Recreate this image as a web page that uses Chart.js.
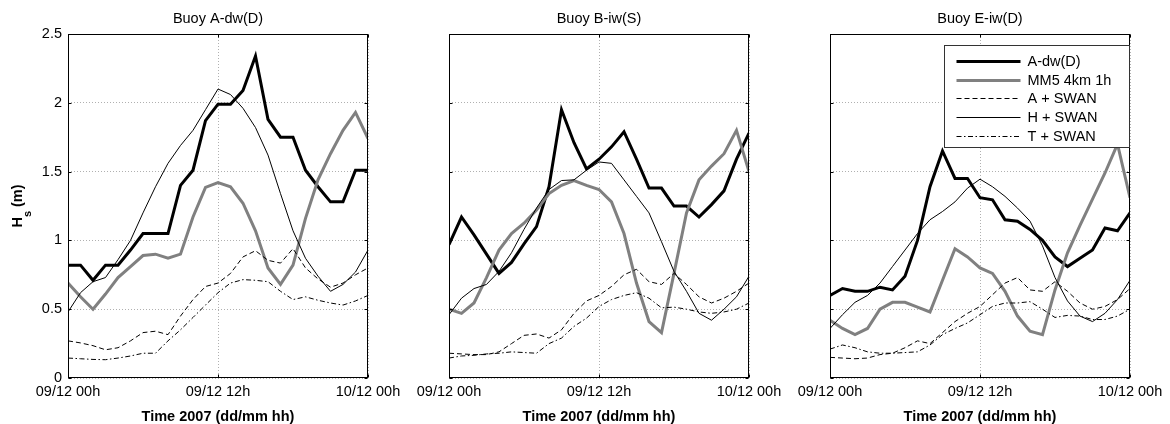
<!DOCTYPE html>
<html>
<head>
<meta charset="utf-8">
<script src="https://cdn.jsdelivr.net/npm/chart.js@4/dist/chart.umd.min.js"></script>
<style>
  html, body { margin: 0; padding: 0; background: #fff; }
  #wrap { position: relative; width: 1170px; height: 424px; overflow: hidden; }
  canvas { position: absolute; top: 0; }
</style>
</head>
<body>
<div id="wrap">
  <canvas id="panelA" width="408" height="424" style="left:0px"></canvas>
  <canvas id="panelB" width="408" height="424" style="left:381px"></canvas>
  <canvas id="panelE" width="408" height="424" style="left:762px"></canvas>
</div>
<script>
// hourly samples, 09/12 00h .. 10/12 00h
const hours = [0, 1, 2, 3, 4, 5, 6, 7, 8, 9, 10, 11, 12, 13, 14, 15, 16, 17, 18, 19, 20, 21, 22, 23, 24];
const timeTickHours = [0, 12, 24];
const timeTickLabels = ['09/12 00h', '09/12 12h', '10/12 00h'];
const hsTickValues = [0, 0.5, 1, 1.5, 2, 2.5];
const hsTickLabels = ['0', '0.5', '1', '1.5', '2', '2.5'];
const seriesNames = ['A-dw(D)', 'MM5 4km 1h', 'A + SWAN', 'H + SWAN', 'T + SWAN'];
const panelTitles = ['Buoy A-dw(D)', 'Buoy B-iw(S)', 'Buoy E-iw(D)'];

// Buoy A-dw(D)
const buoyA_obs   = [0.82, 0.82, 0.71, 0.82, 0.82, 0.93, 1.05, 1.05, 1.05, 1.40, 1.51, 1.87, 1.99, 1.99, 2.09, 2.34, 1.88, 1.75, 1.75, 1.51, 1.39, 1.28, 1.28, 1.51, 1.51];
const buoyA_mm5   = [0.69, 0.59, 0.50, 0.61, 0.73, 0.81, 0.89, 0.90, 0.87, 0.90, 1.17, 1.385, 1.42, 1.39, 1.27, 1.07, 0.80, 0.68, 0.82, 1.16, 1.44, 1.63, 1.80, 1.93, 1.74];
const buoyA_aSwan = [0.27, 0.255, 0.235, 0.205, 0.22, 0.27, 0.33, 0.34, 0.315, 0.45, 0.57, 0.665, 0.69, 0.76, 0.88, 0.925, 0.855, 0.835, 0.94, 0.80, 0.72, 0.66, 0.69, 0.75, 0.80];
const buoyA_hSwan = [0.48, 0.62, 0.70, 0.73, 0.86, 1.00, 1.20, 1.39, 1.56, 1.69, 1.80, 1.95, 2.10, 2.06, 1.96, 1.82, 1.62, 1.34, 1.07, 0.87, 0.74, 0.63, 0.68, 0.77, 0.93];
const buoyA_tSwan = [0.145, 0.14, 0.135, 0.133, 0.145, 0.16, 0.18, 0.18, 0.27, 0.35, 0.44, 0.53, 0.62, 0.69, 0.715, 0.71, 0.70, 0.63, 0.57, 0.59, 0.565, 0.545, 0.53, 0.56, 0.60];

// Buoy B-iw(S)
const buoyB_obs   = [0.97, 1.17, 1.04, 0.90, 0.76, 0.84, 0.975, 1.10, 1.39, 1.95, 1.71, 1.52, 1.59, 1.68, 1.79, 1.59, 1.38, 1.38, 1.25, 1.25, 1.17, 1.26, 1.36, 1.59, 1.78];
const buoyB_mm5   = [0.50, 0.47, 0.545, 0.73, 0.93, 1.05, 1.125, 1.22, 1.34, 1.40, 1.435, 1.40, 1.37, 1.28, 1.05, 0.69, 0.41, 0.33, 0.76, 1.20, 1.44, 1.54, 1.63, 1.80, 1.50];
const buoyB_aSwan = [0.18, 0.175, 0.17, 0.17, 0.19, 0.25, 0.31, 0.32, 0.29, 0.35, 0.47, 0.56, 0.60, 0.665, 0.75, 0.79, 0.70, 0.68, 0.76, 0.68, 0.59, 0.545, 0.58, 0.63, 0.69];
const buoyB_hSwan = [0.46, 0.58, 0.65, 0.68, 0.775, 0.91, 1.08, 1.235, 1.37, 1.435, 1.44, 1.51, 1.57, 1.56, 1.44, 1.32, 1.20, 0.99, 0.775, 0.63, 0.47, 0.42, 0.50, 0.59, 0.74];
const buoyB_tSwan = [0.145, 0.16, 0.165, 0.175, 0.18, 0.19, 0.185, 0.18, 0.25, 0.29, 0.375, 0.435, 0.52, 0.57, 0.60, 0.62, 0.58, 0.51, 0.515, 0.50, 0.48, 0.47, 0.48, 0.50, 0.545];

// Buoy E-iw(D)
const buoyE_obs   = [0.60, 0.65, 0.63, 0.63, 0.66, 0.64, 0.74, 1.00, 1.39, 1.65, 1.45, 1.45, 1.31, 1.295, 1.15, 1.14, 1.08, 1.00, 0.88, 0.81, 0.87, 0.93, 1.09, 1.07, 1.20];
const buoyE_mm5   = [0.42, 0.36, 0.315, 0.36, 0.50, 0.55, 0.55, 0.515, 0.48, 0.71, 0.94, 0.88, 0.80, 0.76, 0.63, 0.45, 0.34, 0.315, 0.64, 0.91, 1.11, 1.30, 1.49, 1.70, 1.31];
const buoyE_aSwan = [0.15, 0.145, 0.14, 0.145, 0.17, 0.18, 0.22, 0.27, 0.25, 0.33, 0.41, 0.47, 0.52, 0.605, 0.69, 0.73, 0.64, 0.63, 0.70, 0.63, 0.545, 0.50, 0.52, 0.57, 0.65];
const buoyE_hSwan = [0.36, 0.46, 0.55, 0.60, 0.69, 0.81, 0.93, 1.05, 1.15, 1.21, 1.28, 1.38, 1.445, 1.39, 1.32, 1.235, 1.14, 0.96, 0.73, 0.56, 0.45, 0.41, 0.47, 0.57, 0.71];
const buoyE_tSwan = [0.21, 0.24, 0.22, 0.19, 0.18, 0.18, 0.185, 0.19, 0.24, 0.315, 0.36, 0.40, 0.46, 0.52, 0.545, 0.545, 0.555, 0.50, 0.44, 0.455, 0.45, 0.425, 0.425, 0.45, 0.50];

const FONT = "'Liberation Sans', Arial, Helvetica, sans-serif";
Chart.defaults.font.family = FONT;
Chart.defaults.color = '#000';

const seriesStyles = [
    { color: '#000000', width: 3, dash: [] },
    { color: '#808080', width: 3, dash: [] },
    { color: '#000000', width: 1, dash: [5, 3] },
    { color: '#000000', width: 1, dash: [] },
    { color: '#000000', width: 1, dash: [5, 2.5, 1.5, 2.5] },
];

// box around the axes, inward tick marks, y label and legend
const matlabAxes = {
    id: 'matlabAxes',
    afterDraw(chart, args, opts) {
        const ctx = chart.ctx;
        const ca = chart.chartArea;
        const xs = chart.scales.x, ys = chart.scales.y;
        const l = Math.round(ca.left) + 0.5, r = Math.round(ca.right) - 0.5;
        const t = Math.round(ca.top) + 0.5, b = Math.round(ca.bottom) - 0.5;
        ctx.save();
        ctx.strokeStyle = '#000';
        ctx.lineWidth = 1;
        ctx.setLineDash([]);
        ctx.beginPath();
        hsTickValues.forEach(v => {
            const py = Math.round(ys.getPixelForValue(v)) + 0.5;
            ctx.moveTo(l, py); ctx.lineTo(l + 3, py);
            ctx.moveTo(r, py); ctx.lineTo(r - 3, py);
        });
        timeTickHours.forEach(h => {
            const px = Math.round(xs.getPixelForValue(h)) + 0.5;
            ctx.moveTo(px, b); ctx.lineTo(px, b - 3);
            ctx.moveTo(px, t); ctx.lineTo(px, t + 3);
        });
        ctx.stroke();
        ctx.strokeRect(l, t, r - l, b - t);

        if (opts.yLabel) {
            ctx.translate(17, (ca.top + ca.bottom) / 2);
            ctx.rotate(-Math.PI / 2);
            ctx.fillStyle = '#000';
            ctx.textBaseline = 'alphabetic';
            ctx.font = 'bold 14.5px ' + FONT;
            const wH = ctx.measureText('H').width;
            const wRest = ctx.measureText(' (m)').width;
            ctx.font = 'bold 11px ' + FONT;
            const wS = ctx.measureText('s').width;
            let x0 = -(wH + wS + wRest) / 2;
            ctx.font = 'bold 14.5px ' + FONT;
            ctx.fillText('H', x0, 5.2);
            ctx.font = 'bold 11px ' + FONT;
            ctx.fillText('s', x0 + wH, 13.5);
            ctx.font = 'bold 14.5px ' + FONT;
            ctx.fillText(' (m)', x0 + wH + wS, 5.2);
        }
        ctx.restore();

        if (opts.legend) {
            const bw = 185, bh = 102;
            const bx = Math.round(ca.right) - 1 - bw + 0.5;
            const by = Math.round(ca.top) + 11 + 0.5;
            ctx.save();
            ctx.fillStyle = '#fff';
            ctx.fillRect(bx, by, bw, bh);
            ctx.strokeStyle = '#333';
            ctx.lineWidth = 1;
            ctx.strokeRect(bx, by, bw, bh);
            ctx.font = '14.5px ' + FONT;
            ctx.textBaseline = 'middle';
            chart.data.datasets.forEach((ds, i) => {
                const ry = by + 15.5 + i * 18.7;
                const yy = Math.round(ry) + (ds.borderWidth % 2 ? 0.5 : 0);
                ctx.beginPath();
                ctx.strokeStyle = ds.borderColor;
                ctx.lineWidth = ds.borderWidth;
                ctx.setLineDash(ds.borderDash);
                ctx.moveTo(bx + 12, yy);
                ctx.lineTo(bx + 76, yy);
                ctx.stroke();
                ctx.setLineDash([]);
                ctx.fillStyle = '#000';
                ctx.fillText(ds.label, bx + 83, ry + 1);
            });
            ctx.restore();
        }
    }
};

function makePanel(canvasId, title, seriesValues, showYTicks, showYLabel, showLegend) {
    const ctx = document.getElementById(canvasId).getContext('2d');
    const datasets = seriesValues.map((vals, i) => ({
        label: seriesNames[i],
        data: hours.map((h, k) => ({ x: h, y: vals[k] })),
        borderColor: seriesStyles[i].color,
        borderWidth: seriesStyles[i].width,
        borderDash: seriesStyles[i].dash,
        pointRadius: 0,
        tension: 0,
        fill: false,
        order: 5 - i,
    }));

    new Chart(ctx, {
        type: 'line',
        data: { datasets: datasets },
        options: {
            responsive: false,
            animation: false,
            devicePixelRatio: 1,
            layout: { padding: { left: 0, right: 40, top: 0, bottom: 0 } },
            scales: {
                x: {
                    type: 'linear',
                    min: 0,
                    max: 24,
                    afterFit: s => { s.height = 46; },
                    afterBuildTicks: s => { s.ticks = timeTickHours.map(v => ({ value: v })); },
                    ticks: {
                        autoSkip: false,
                        maxRotation: 0,
                        padding: 5.5,
                        color: '#000',
                        font: { size: 14.5 },
                        callback: v => timeTickLabels[timeTickHours.indexOf(v)],
                    },
                    grid: { color: '#b0b0b0', lineWidth: 1, drawTicks: false },
                    border: { display: false, dash: [1, 2] },
                    title: {
                        display: true,
                        text: 'Time 2007 (dd/mm hh)',
                        color: '#000',
                        font: { size: 14.5, weight: 'bold' },
                        padding: { top: 0, bottom: -2 },
                    },
                },
                y: {
                    min: 0,
                    max: 2.5,
                    afterFit: s => { s.width = 68; },
                    afterBuildTicks: s => { s.ticks = hsTickValues.map(v => ({ value: v })); },
                    ticks: {
                        display: showYTicks,
                        padding: 6,
                        color: '#000',
                        font: { size: 14.5 },
                        callback: v => hsTickLabels[hsTickValues.indexOf(v)],
                    },
                    grid: { color: '#b0b0b0', lineWidth: 1, drawTicks: false },
                    border: { display: false, dash: [1, 2] },
                },
            },
            plugins: {
                legend: { display: false },
                tooltip: { enabled: false },
                title: {
                    display: true,
                    text: title,
                    color: '#000',
                    fullSize: false,
                    font: { size: 14.5, weight: 'normal' },
                    padding: { top: 10, bottom: 6.6 },
                },
                matlabAxes: { yLabel: showYLabel, legend: showLegend },
            },
        },
        plugins: [matlabAxes],
    });
}

makePanel('panelA', panelTitles[0], [buoyA_obs, buoyA_mm5, buoyA_aSwan, buoyA_hSwan, buoyA_tSwan], true, true, false);
makePanel('panelB', panelTitles[1], [buoyB_obs, buoyB_mm5, buoyB_aSwan, buoyB_hSwan, buoyB_tSwan], false, false, false);
makePanel('panelE', panelTitles[2], [buoyE_obs, buoyE_mm5, buoyE_aSwan, buoyE_hSwan, buoyE_tSwan], false, false, true);
</script>
</body>
</html>
